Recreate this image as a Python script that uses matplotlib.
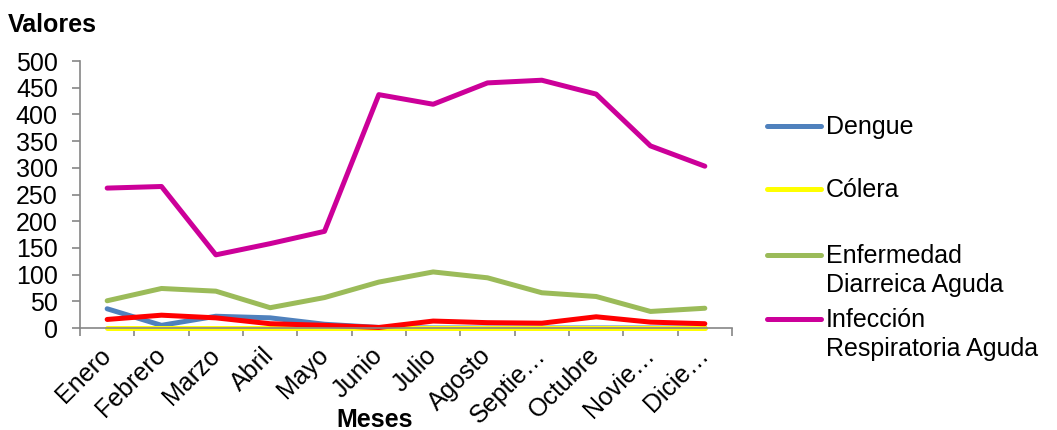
import numpy as np
import matplotlib
matplotlib.use('Agg')
import matplotlib.pyplot as plt
from matplotlib.lines import Line2D

plt.rcParams['font.family'] = ['Liberation Sans', 'DejaVu Sans']

# data
meses = ['Enero', 'Febrero', 'Marzo', 'Abril', 'Mayo', 'Junio', 'Julio',
         'Agosto', 'Septie…', 'Octubre', 'Novie…', 'Dicie…']
dengue = [36, 5, 22, 19, 7, 1, 0, 0, 0, 0, 0, 0]
colera = [0, 0, 0, 0, 0, 0, 0, 0, 0, 0, 0, 0]
eda = [51, 74, 69, 38, 57, 86, 105, 94, 66, 59, 31, 37]
ira = [262, 265, 137, 158, 181, 437, 419, 459, 464, 438, 341, 303]
otro = [16, 24, 19, 8, 5, 1, 13, 10, 9, 21, 11, 8]   # red series, no legend entry

series = [
    ('Dengue', dengue, '#4F81BD'),
    ('Cólera', colera, '#FFFF00'),
    ('Enfermedad\nDiarreica Aguda', eda, '#9BBB59'),
    ('Infección\nRespiratoria Aguda', ira, '#CC0099'),
    (None, otro, '#FF0000'),
]

W, H = 1057, 430
FS = 18
fig = plt.figure(figsize=(W / 100, H / 100), dpi=100)
ax = fig.add_axes([80 / W, 1 - 328 / H, (732 - 80) / W, (328 - 61) / H])

x = np.arange(len(meses))
for name, vals, col in series:
    ax.plot(x, vals, color=col, lw=3.6, solid_capstyle='round',
            solid_joinstyle='round', clip_on=False)

ax.set_xlim(-0.5, len(meses) - 0.5)
ax.set_ylim(0, 500)
ax.set_yticks(np.arange(0, 501, 50))

gray = '#868686'
for s in ['top', 'right']:
    ax.spines[s].set_visible(False)
for s in ['left', 'bottom']:
    ax.spines[s].set_color(gray)
    ax.spines[s].set_linewidth(1.2)

# tick marks at category boundaries, labels at centres
ax.set_xticks(np.arange(-0.5, len(meses), 1.0))
ax.set_xticklabels([])
ax.set_xticks(x, minor=True)
ax.set_xticklabels(meses, minor=True, rotation=45, ha='right',
                   va='center', rotation_mode='anchor', fontsize=FS)
ax.tick_params(axis='x', which='major', length=6, color=gray, width=1.2)
ax.tick_params(axis='x', which='minor', length=0, pad=17)
ax.tick_params(axis='y', length=6, color=gray, width=1.2, labelsize=FS, pad=10)

fig.text(8 / W, 1 - 25 / H, 'Valores', fontsize=FS, fontweight='bold',
         ha='left', va='center')
fig.text(375 / W, 1 - 420 / H, 'Meses', fontsize=FS, fontweight='bold',
         ha='center', va='center')

# legend drawn by hand so the line sits on the first text line
leg_y = [126, 189, 255, 319]
for (name, vals, col), yy in zip(series[:4], leg_y):
    fy = 1 - yy / H
    fig.add_artist(Line2D([767 / W, 821 / W], [fy, fy], color=col, lw=3.6,
                          solid_capstyle='round', transform=fig.transFigure))
    fig.text(826 / W, 1 - (yy - 11) / H, name, fontsize=FS, ha='left',
             va='top', linespacing=1.25)

fig.savefig('out.png', dpi=100)
